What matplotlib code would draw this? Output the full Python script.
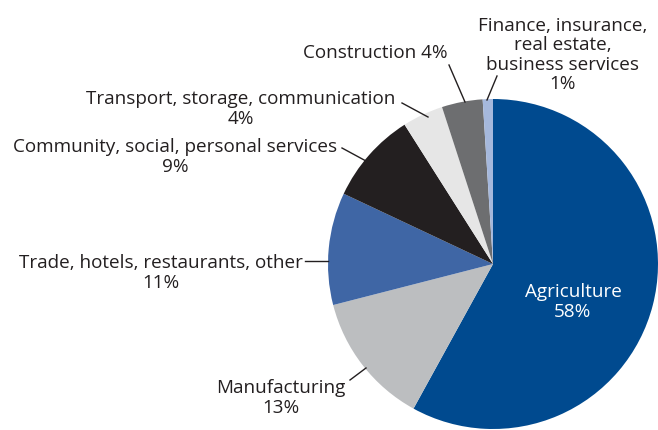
import matplotlib.pyplot as plt

# Sector shares, clockwise from 12 o'clock
sectors = ["Agriculture", "Manufacturing", "Trade, hotels, restaurants, other",
           "Community, social, personal services", "Transport, storage, communication",
           "Construction", "Finance, insurance, real estate, business services"]
shares = [58, 13, 11, 9, 4, 4, 1]
colors = ["#004A8F", "#BCBEC0", "#3F66A5", "#231F20", "#E6E6E6", "#6D6E70", "#A5B8DC"]

W, H = 658, 431
fig = plt.figure(figsize=(W / 100, H / 100), dpi=100)
ax = fig.add_axes([0, 0, 1, 1])

cx, cy, r = 493, H - 265, 165
ax.pie(shares, colors=colors, startangle=90, counterclock=False,
       center=(cx, cy), radius=r, frame=True,
       wedgeprops=dict(linewidth=0))
ax.set_xlim(0, W)
ax.set_ylim(0, H)
ax.set_aspect("equal")
ax.axis("off")

plt.rcParams["font.family"] = ["Open Sans", "DejaVu Sans"]
tc = "#231F20"
fs = 13.6

def label(x, y, s, color=tc):
    ax.text(x, H - y, s, ha="center", va="center", fontsize=fs, color=color,
            multialignment="center", linespacing=1.1)

def leader(x0, y0, x1, y1):
    ax.plot([x0, x1], [H - y0, H - y1], color=tc, lw=1)

label(573, 302, "Agriculture\n58%", color="white")
label(281, 398, "Manufacturing\n13%")
label(161, 273, "Trade, hotels, restaurants, other\n11%")
label(175, 157, "Community, social, personal services\n9%")
label(241, 109, "Transport, storage, communication\n4%")
label(375, 53, "Construction 4%")
label(563, 55, "Finance, insurance,\nreal estate,\nbusiness services\n1%")

leader(487, 101, 497, 77)
leader(465, 103, 449, 66)
leader(402, 104, 428, 118)
leader(342, 149, 366, 162)
leader(305, 262, 328, 262)
leader(350, 381, 366, 369)

fig.savefig("out.png", dpi=100)
